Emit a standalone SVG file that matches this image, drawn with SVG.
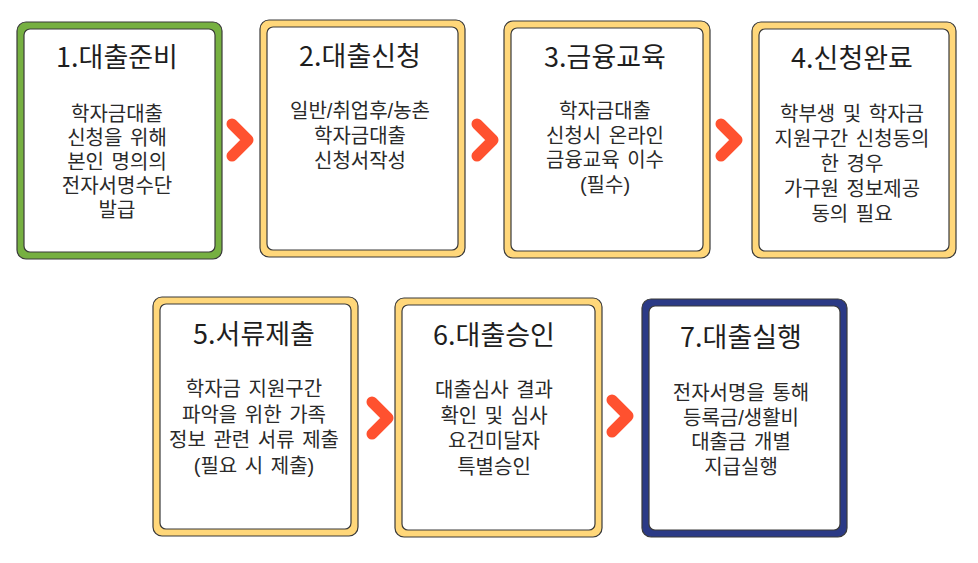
<svg xmlns="http://www.w3.org/2000/svg" width="978" height="563" viewBox="0 0 978 563">
<style>
.outer{stroke:#3a3a3a;stroke-width:1.2}
.g{fill:#76b041}
.y{fill:#ffd77a}
.b{fill:#2b3a86}
.inner{fill:#fff;stroke:#3a3a3a;stroke-width:1.2}
.t{font-family:"Noto Sans CJK KR","Noto Sans",sans-serif;font-size:27px;fill:#1e1e1e;text-anchor:middle}
.d{font-family:"Liberation Sans","Noto Sans CJK KR",sans-serif;font-size:20px;word-spacing:2px;fill:#2a2a2a;text-anchor:middle}
.chev{fill:none;stroke:#ff512f;stroke-width:11;stroke-linecap:round;stroke-linejoin:round}
</style>
<rect width="978" height="563" fill="#fff"/>
<g id="connectors">
<path class="chev" d="M232,124 L248,140 L232,156"/>
<path class="chev" d="M477,124 L493,140 L477,156"/>
<path class="chev" d="M721,124 L737,140 L721,156"/>
<path class="chev" d="M372,402 L388,418 L372,434"/>
<path class="chev" d="M612,400 L628,416 L612,432"/>
</g>
<g id="node1">
<rect class="outer g" x="17" y="22" width="205" height="237" rx="9"/>
<rect class="inner" x="24" y="29" width="191" height="223" rx="6"/>
<text class="t" x="117" y="67">1.대출준비</text>
<text class="d" x="117" y="121">학자금대출</text>
<text class="d" x="117" y="145">신청을 위해</text>
<text class="d" x="117" y="169">본인 명의의</text>
<text class="d" x="117" y="193">전자서명수단</text>
<text class="d" x="117" y="217">발급</text>
</g>
<g id="node2">
<rect class="outer y" x="260" y="20" width="205" height="237" rx="9"/>
<rect class="inner" x="267" y="27" width="191" height="223" rx="6"/>
<text class="t" x="360" y="66">2.대출신청</text>
<text class="d" x="360" y="118">일반/취업후/농촌</text>
<text class="d" x="360" y="143">학자금대출</text>
<text class="d" x="360" y="168">신청서작성</text>
</g>
<g id="node3">
<rect class="outer y" x="504" y="21" width="206" height="237" rx="9"/>
<rect class="inner" x="511" y="28" width="192" height="223" rx="6"/>
<text class="t" x="605" y="67">3.금융교육</text>
<text class="d" x="605" y="118">학자금대출</text>
<text class="d" x="605" y="142.5">신청시 온라인</text>
<text class="d" x="605" y="167">금융교육 이수</text>
<text class="d" x="605" y="191.5">(필수)</text>
</g>
<g id="node4">
<rect class="outer y" x="752" y="22" width="204" height="236" rx="9"/>
<rect class="inner" x="759" y="29" width="190" height="222" rx="6"/>
<text class="t" x="852" y="68">4.신청완료</text>
<text class="d" x="852" y="121">학부생 및 학자금</text>
<text class="d" x="852" y="146">지원구간 신청동의</text>
<text class="d" x="852" y="171">한 경우</text>
<text class="d" x="852" y="196">가구원 정보제공</text>
<text class="d" x="852" y="221">동의 필요</text>
</g>
<g id="node5">
<rect class="outer y" x="153" y="297" width="205" height="239" rx="9"/>
<rect class="inner" x="160" y="304" width="191" height="225" rx="6"/>
<text class="t" x="254" y="344">5.서류제출</text>
<text class="d" x="254" y="396">학자금 지원구간</text>
<text class="d" x="254" y="421.5">파악을 위한 가족</text>
<text class="d" x="254" y="447">정보 관련 서류 제출</text>
<text class="d" x="254" y="472.5">(필요 시 제출)</text>
</g>
<g id="node6">
<rect class="outer y" x="395" y="298" width="207" height="239" rx="9"/>
<rect class="inner" x="402" y="305" width="193" height="225" rx="6"/>
<text class="t" x="494" y="345">6.대출승인</text>
<text class="d" x="494" y="397">대출심사 결과</text>
<text class="d" x="494" y="422.5">확인 및 심사</text>
<text class="d" x="494" y="448">요건미달자</text>
<text class="d" x="494" y="473.5">특별승인</text>
</g>
<g id="node7">
<rect class="outer b" x="642" y="299" width="205" height="238" rx="9"/>
<rect class="inner" x="649" y="306" width="191" height="224" rx="6"/>
<text class="t" x="741" y="347">7.대출실행</text>
<text class="d" x="741" y="400">전자서명을 통해</text>
<text class="d" x="741" y="424.5">등록금/생활비</text>
<text class="d" x="741" y="449">대출금 개별</text>
<text class="d" x="741" y="473.5">지급실행</text>
</g>
</svg>
